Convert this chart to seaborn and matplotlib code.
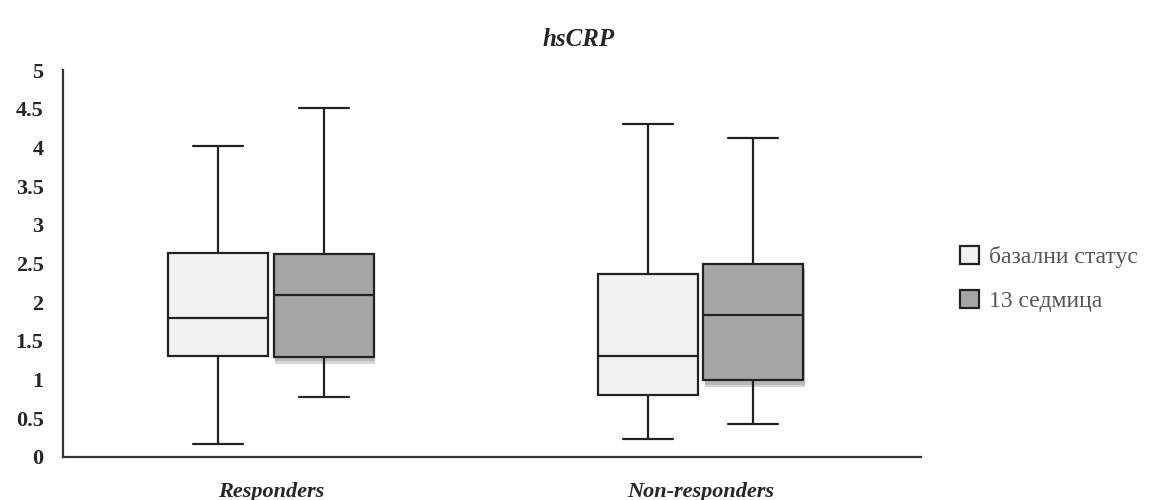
import numpy as np
import pandas as pd
import seaborn as sns
from matplotlib import pyplot as plt
from matplotlib import patheffects as pe
from matplotlib.patches import Patch

# five-number summaries: whisker low, q1, median, q3, whisker high
GROUPS = ["Responders", "Non-responders"]
SERIES = ["базални статус", "13 седмица"]
STATS = {
    ("Responders", "базални статус"): [0.17, 1.30, 1.79, 2.63, 4.02],
    ("Responders", "13 седмица"): [0.77, 1.29, 2.09, 2.62, 4.51],
    ("Non-responders", "базални статус"): [0.23, 0.80, 1.30, 2.37, 4.30],
    ("Non-responders", "13 седмица"): [0.43, 0.99, 1.84, 2.50, 4.12],
}
COLORS = ["#f2f2f2", "#a6a6a6"]
YTICKS = [0, 0.5, 1, 1.5, 2, 2.5, 3, 3.5, 4, 4.5, 5]

# 5 points per box -> quartiles land exactly on the values, whiskers at min/max
rows = []
for (grp, ser), vals in STATS.items():
    for v in vals:
        rows.append({"group": grp, "series": ser, "value": v})
df = pd.DataFrame(rows)

sns.set_style("white")
plt.rcParams["font.family"] = ["Liberation Serif", "DejaVu Serif"]

fig = plt.figure(figsize=(11.58, 5.0), dpi=100)
ax = fig.add_axes([0.0544, 0.086, 0.7406, 0.774])

sns.boxplot(
    data=df, x="group", y="value", hue="series",
    order=GROUPS, hue_order=SERIES, palette=COLORS,
    whis=(0, 100), width=0.49, gap=0.05, showfliers=False,
    linecolor="#222222", linewidth=1.6, legend=False,
    capprops=dict(linewidth=1.6),
    ax=ax,
)

# soft drop shadow under the dark boxes, like the original
dark = plt.matplotlib.colors.to_rgb(COLORS[1])
for patch in ax.patches:
    if np.allclose(patch.get_facecolor()[:3], dark):
        patch.set_path_effects([
            pe.SimplePatchShadow(offset=(1, -5), shadow_rgbFace="#777777", alpha=0.3),
            pe.SimplePatchShadow(offset=(1, -3), shadow_rgbFace="#777777", alpha=0.3),
            pe.Normal(),
        ])

ax.set_ylim(0, 5)
ax.set_xlim(-0.484, 1.512)
ax.set_yticks(YTICKS)
ax.set_yticklabels([f"{t:g}" for t in YTICKS], fontsize=16, fontweight="bold")
ax.set_xticks(range(len(GROUPS)))
ax.set_xticklabels(GROUPS, fontsize=16, fontweight="bold", fontstyle="italic")
ax.tick_params(axis="y", length=0, pad=14)
ax.tick_params(axis="x", length=0, pad=18)
ax.set_xlabel("")
ax.set_ylabel("")
for side in ["top", "right"]:
    ax.spines[side].set_visible(False)
for side in ["left", "bottom"]:
    ax.spines[side].set_color("#333333")
    ax.spines[side].set_linewidth(1.6)

fig.text(0.5, 0.92, "hsCRP", ha="center", va="center",
         fontsize=18, fontweight="bold", fontstyle="italic")

handles = [Patch(facecolor=c, edgecolor="#222222", linewidth=1.6) for c in COLORS]
leg = fig.legend(handles, SERIES, loc="center left", bbox_to_anchor=(0.811, 0.442),
                 frameon=False, fontsize=17, labelspacing=0.9,
                 handlelength=0.8, handleheight=0.8, handletextpad=0.4)
for t in leg.get_texts():
    t.set_color("#555555")

fig.savefig("out.png", dpi=100)
